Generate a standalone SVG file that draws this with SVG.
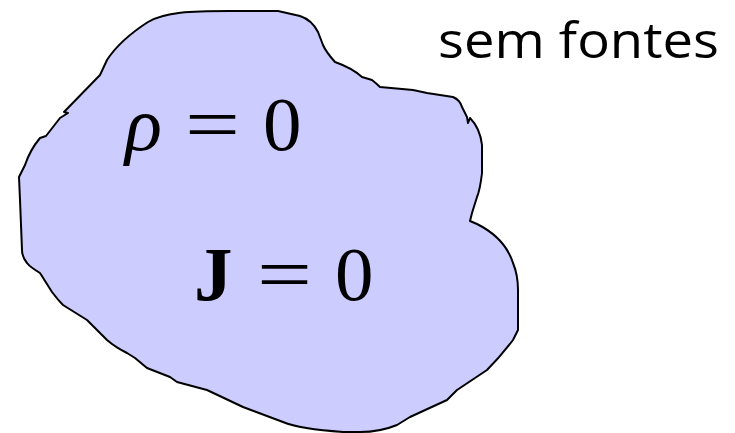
<svg xmlns="http://www.w3.org/2000/svg" width="735" height="433" viewBox="0 0 735 433">
<style>
.blob{fill:#ccccff;stroke:#000;stroke-width:2;stroke-linejoin:round}
.m{font-family:"Liberation Serif","DejaVu Serif",serif;font-size:77px;fill:#000}
.lbl{font-family:"Open Sans","Liberation Sans",sans-serif;font-size:50px;fill:#000}
</style>
<g id="region">
<path class="blob" d="M148,22 C165,12 190,11 230,11 L278,11 L300,16 Q312,20 318,32 L323,45 Q326,52 335,62 Q352,68 362,77 L372,80 Q377,84 380,87 L413,90 L427,93 L453,97 Q460,100 462,107 L467,117 L468,123 L470,118 Q480,128 482,145 L482,173 Q480,190 477,197 L472,213 L470,221 L477,224 Q505,238 513,263 Q518,275 518,290 L518,330 L513,340 Q500,357 487,370 L457,390 L447,400 L410,417 L397,425 Q380,432 360,432 L343,432 Q300,429 283,422 L243,407 L207,390 L177,382 L170,377 L147,368 L135,358 L127,353 Q115,347 107,340 L87,320 L63,305 Q58,300 52,292 L40,273 Q30,267 27,263 Q22,257 22,250 L20,200 L19,177 L25,165 Q30,150 40,138 L46,136 L60,118 L68,113 L64,112 L100,75 L107,60 Q120,40 148,22 Z"/>
<text class="m" x="125" y="150" font-style="italic">ρ</text>
<text class="m" x="185" y="150" textLength="55" lengthAdjust="spacingAndGlyphs">=</text>
<text class="m" x="263" y="150">0</text>
<text class="m" x="194" y="300" font-weight="bold">J</text>
<text class="m" x="257" y="300" textLength="55" lengthAdjust="spacingAndGlyphs">=</text>
<text class="m" x="335" y="300">0</text>
</g>
<g id="label">
<text class="lbl" x="438" y="58" textLength="281" lengthAdjust="spacingAndGlyphs">sem fontes</text>
</g>
</svg>
